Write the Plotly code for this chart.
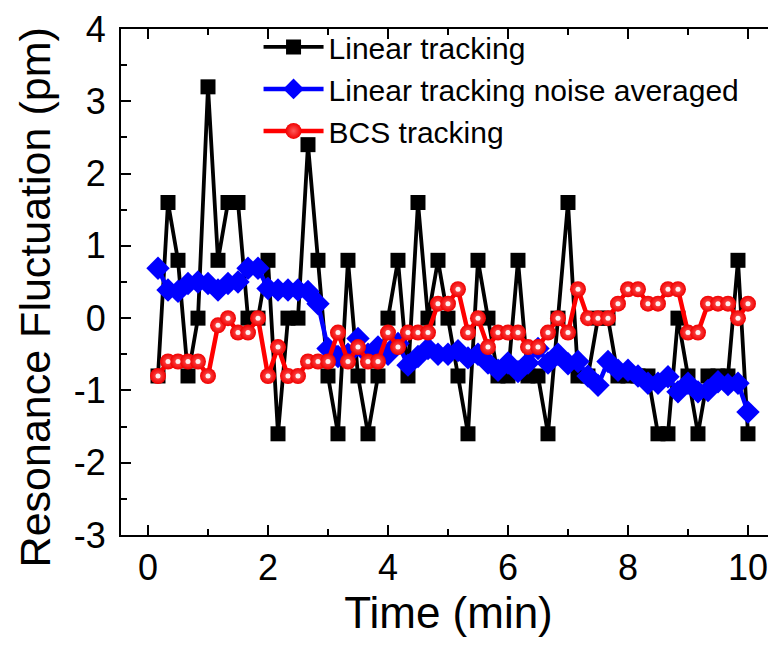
"""Resonance fluctuation over time: linear vs. BCS tracking."""

import plotly.graph_objects as go

FONT = "Liberation Sans, Arial, sans-serif"

# sampling every 10 s, shown in minutes
time_s = list(range(10, 610, 10))
time_min = [s / 60 for s in time_s]

linear_tracking = [
    -0.8, 1.6, 0.8, -0.8, 0.0, 3.2, 0.8, 1.6, 1.6, 0.0,
    0.0, 0.8, -1.6, 0.0, 0.0, 2.4, 0.8, -0.8, -1.6, 0.8,
    -0.8, -1.6, -0.8, 0.0, 0.8, -0.8, 1.6, 0.0, 0.8, 0.0,
    -0.8, -1.6, 0.8, 0.0, -0.8, -0.8, 0.8, -0.8, -0.8, -1.6,
    0.0, 1.6, -0.8, -0.8, 0.0, 0.0, -0.8, -0.8, -0.8, -0.8,
    -1.6, -1.6, 0.0, -0.8, -1.6, -0.8, -0.8, -0.8, 0.8, -1.6,
]

linear_noise_avg = [
    0.69, 0.39, 0.37, 0.48, 0.50, 0.48, 0.39, 0.48, 0.50, 0.69,
    0.69, 0.41, 0.39, 0.39, 0.39, 0.37, 0.20, -0.42, -0.53, -0.50,
    -0.28, -0.50, -0.40, -0.50, -0.35, -0.65, -0.53, -0.42, -0.50, -0.50,
    -0.45, -0.55, -0.50, -0.62, -0.72, -0.62, -0.74, -0.62, -0.42, -0.62,
    -0.50, -0.63, -0.60, -0.80, -0.93, -0.60, -0.72, -0.72, -0.80, -0.90,
    -0.90, -0.81, -1.02, -0.90, -1.02, -1.00, -0.88, -0.92, -0.90, -1.30,
]

bcs_tracking = [
    -0.8, -0.6, -0.6, -0.6, -0.6, -0.8, -0.1, 0.0, -0.2, -0.2,
    0.0, -0.8, -0.4, -0.8, -0.8, -0.6, -0.6, -0.6, -0.2, -0.6,
    -0.4, -0.6, -0.6, -0.2, -0.4, -0.2, -0.2, -0.2, 0.2, 0.2,
    0.4, -0.2, 0.0, -0.4, -0.2, -0.2, -0.2, -0.4, -0.4, -0.2,
    0.0, -0.2, 0.4, 0.0, 0.0, 0.0, 0.2, 0.4, 0.4, 0.2,
    0.2, 0.4, 0.4, -0.2, -0.2, 0.2, 0.2, 0.2, 0.0, 0.2,
]

x_ticks = [0, 2, 4, 6, 8, 10]
y_ticks = [-3, -2, -1, 0, 1, 2, 3, 4]
y_ticktext = [str(v) for v in y_ticks]  # plain hyphen, not U+2212

fig = go.Figure()
fig.add_trace(
    go.Scatter(
        x=time_min,
        y=linear_tracking,
        mode="lines+markers",
        name="Linear tracking",
        line=dict(color="black", width=3.8),
        marker=dict(symbol="square", size=15, color="black"),
    )
)
fig.add_trace(
    go.Scatter(
        x=time_min,
        y=linear_noise_avg,
        mode="lines+markers",
        name="Linear tracking noise averaged",
        line=dict(color="#0000ff", width=4.5),
        marker=dict(symbol="diamond", size=18, color="#0000ff"),
    )
)
fig.add_trace(
    go.Scatter(
        x=time_min,
        y=bcs_tracking,
        mode="lines+markers",
        name="BCS tracking",
        line=dict(color="#ff0000", width=4.5),
        marker=dict(
            symbol="circle",
            size=16,
            color="#f00000",
            gradient=dict(type="radial", color="#ff5a5a"),
            line=dict(width=0),
        ),
    )
)
# glossy highlight on the red spheres
fig.add_trace(
    go.Scatter(
        x=time_min,
        y=bcs_tracking,
        mode="markers",
        showlegend=False,
        hoverinfo="skip",
        marker=dict(symbol="circle", size=5, color="#fff0f0", line=dict(width=0)),
    )
)

axis_common = dict(
    showgrid=False,
    zeroline=False,
    showline=True,
    automargin=False,
    linecolor="black",
    linewidth=2,
    ticks="inside",
    ticklen=10,
    tickwidth=1.5,
    tickcolor="black",
    tickfont=dict(family=FONT, size=36, color="black"),
)

fig.update_xaxes(
    **axis_common,
    range=[-0.45, 10.467],
    tickvals=x_ticks,
    mirror="ticks",
    minor=dict(tickvals=[1, 3, 5, 7, 9], ticks="inside", ticklen=6, tickcolor="black", tickwidth=1.5),
    title_text="Time (min)",
    title_font=dict(family=FONT, size=44, color="black"),
    title_standoff=7,
)
fig.update_yaxes(
    **axis_common,
    range=[-3, 4],
    tickvals=y_ticks,
    ticktext=y_ticktext,
    ticklabelstandoff=6,
    minor=dict(dtick=0.5, ticks="inside", ticklen=6, tickcolor="black", tickwidth=1.5),
)

fig.add_annotation(
    text="Resonance Fluctuation (pm)",
    xref="paper",
    yref="paper",
    x=-0.131,
    y=0.47,
    xanchor="center",
    yanchor="middle",
    textangle=-90,
    showarrow=False,
    font=dict(family=FONT, size=43, color="black"),
)

# page body has an 8px margin, so the figure is sized to the visible window area
fig.update_layout(
    width=768,
    height=637,
    plot_bgcolor="white",
    paper_bgcolor="white",
    margin=dict(l=113, r=0, t=21, b=110, autoexpand=False),
    font=dict(family=FONT, color="black"),
    legend=dict(
        x=0.21,
        y=1.016,
        xanchor="left",
        yanchor="top",
        bgcolor="rgba(0,0,0,0)",
        font=dict(family=FONT, size=30, color="black"),
        itemwidth=60,
        tracegroupgap=0,
    ),
)

fig.write_html("out.html")
